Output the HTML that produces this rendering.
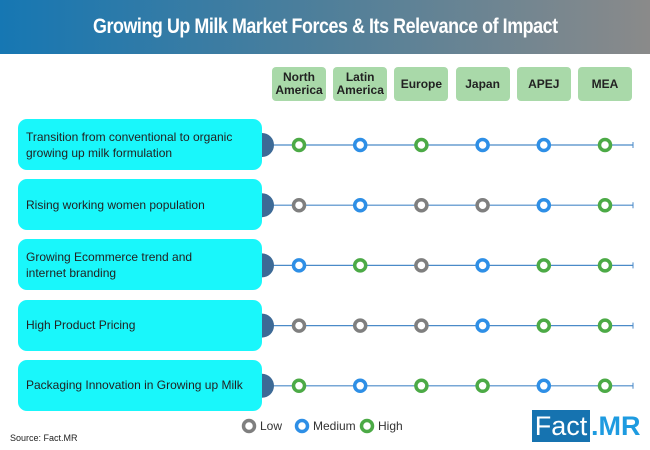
<!DOCTYPE html>
<html><head><meta charset="utf-8"><style>
body{margin:0;width:650px;height:450px;overflow:hidden;background:#fff;font-family:"Liberation Sans",sans-serif;position:relative}
#title{position:absolute;left:0;top:0;width:650px;height:54px;background:linear-gradient(90deg,#1677b3,#4f7f9a 50%,#8a8a8a);color:#fff;font:bold 21px "Liberation Sans",sans-serif;text-align:center;line-height:54px;letter-spacing:-0.5px;transform-origin:center}
#title span{display:inline-block;transform:scaleX(0.85)}
.hdr{position:absolute;top:67px;width:54px;height:34px;background:#a9d9a9;border-radius:4px;font:bold 12px "Liberation Sans",sans-serif;color:#222;display:flex;align-items:center;justify-content:center;text-align:center;line-height:13px}
.box{position:absolute;left:18px;width:244px;height:51px;background:#19f7fb;border-radius:9px;font-size:12px;color:#222;display:flex;align-items:center;padding-left:8px;box-sizing:border-box;line-height:16px}
</style></head><body>
<div id="title"><span>Growing Up Milk Market Forces &amp; Its Relevance of Impact</span></div>
<svg id="chart" width="650" height="450" style="position:absolute;left:0;top:0"></svg>
<div style="position:absolute;left:10px;top:433px;font-size:9px;color:#222">Source: Fact.MR</div>
<div style="position:absolute;left:532px;top:410px;width:58px;height:32px;background:#1673b0;color:#fff;font-size:27px;line-height:32px;text-align:center">Fact</div>
<div style="position:absolute;left:591px;top:410px;height:32px;color:#1e9be0;font:bold 27px/32px 'Liberation Sans',sans-serif">.MR</div>
<script>
const regions=["North<br>America","Latin<br>America","Europe","Japan","APEJ","MEA"];
const forces=["Transition from conventional to organic<br>growing up milk formulation","Rising working women population","Growing Ecommerce trend and<br>internet branding","High Product Pricing","Packaging Innovation in Growing up Milk"];
const impacts=[["H","M","H","M","M","H"],["L","M","L","L","M","H"],["M","H","L","M","H","H"],["L","L","L","M","H","H"],["H","M","H","H","M","H"]];
const legendLabels=["Low","Medium","High"];
const colors={L:"#7f7f7f",M:"#2e8fe6",H:"#4caa46"};
const ns="http://www.w3.org/2000/svg";
const svg=document.getElementById('chart');
const colX=i=>299+i*61.2;
const rowY=j=>145+j*60.2;
function el(t,a){const e=document.createElementNS(ns,t);for(const k in a)e.setAttribute(k,a[k]);svg.appendChild(e);return e;}
regions.forEach((r,i)=>{const d=document.createElement('div');d.className='hdr';d.style.left=(colX(i)-27)+'px';d.innerHTML=r;


document.body.appendChild(d);});
forces.forEach((f,j)=>{const y=rowY(j);
const d=document.createElement('div');d.className='box';d.style.top=(y-26)+'px';d.innerHTML=f;


document.body.appendChild(d);
const l=el('line',{x1:262,y1:y,x2:633,y2:y,stroke:'#4a8ac8','stroke-width':1.2});


const t=el('line',{x1:633,y1:y-3,x2:633,y2:y+3,stroke:'#4a8ac8','stroke-width':1});


const s=el('path',{d:`M262 ${y-12} A12 12 0 0 1 262 ${y+12} Z`,fill:'#3d6a96'});


impacts[j].forEach((v,i)=>{const c=el('circle',{cx:colX(i),cy:y,r:5.5,fill:'#fff',stroke:colors[v],'stroke-width':3.5});

});
});
const lx=[249,302,367];
legendLabels.forEach((L,i)=>{const c=el('circle',{cx:lx[i],cy:426,r:5.5,fill:'#fff',stroke:colors["LMH"[i]],'stroke-width':3.5});


const t=el('text',{x:lx[i]+11,y:430,'font-size':12,fill:'#333','font-family':'Liberation Sans'});t.textContent=L;

});
</script>
</body></html>
